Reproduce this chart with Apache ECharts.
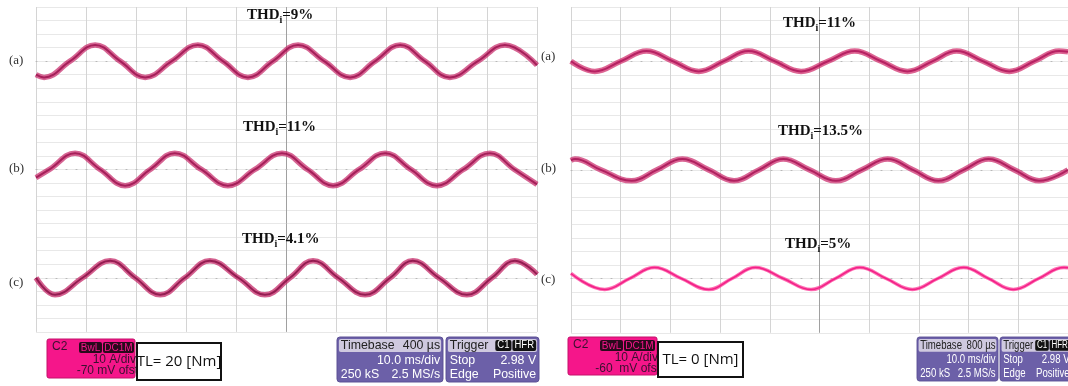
<!DOCTYPE html>
<html>
<head>
<meta charset="utf-8">
<script src="https://cdn.jsdelivr.net/npm/echarts@6/dist/echarts.min.js"></script>
<style>
    html, body { margin: 0; padding: 0; background: #fff; }
    #main { width: 1068px; height: 386px; }
</style>
</head>
<body>
<div id="main"></div>
<script>
// 波形数据：x 为格数(0-10)，y 为格数(中心为0)
var laX = [0, 0.16, 0.68, 1.18, 1.68, 2.18, 2.71, 3.23, 3.73, 4.23, 4.73, 5.23, 5.75, 6.27, 6.77, 7.27, 7.76, 8.26, 8.82, 9.36, 10];
var laY = [-1.0, -1.2, 0, 1.2, 0, -1.2, 0, 1.2, 0, -1.2, 0, 1.2, 0, -1.2, 0, 1.2, 0, -1.2, 0, 1.2, -0.3];

var lbX = [0, 0.27, 0.78, 1.28, 1.78, 2.28, 2.77, 3.3, 3.83, 4.37, 4.91, 5.42, 5.93, 6.45, 6.97, 7.48, 8.0, 8.53, 9.06, 9.55, 10];
var lbY = [-0.6, 0, 1.2, 0, -1.2, 0, 1.2, 0, -1.2, 0, 1.2, 0, -1.2, 0, 1.2, 0, -1.2, 0, 1.2, 0, -1.1];

var lcX = [0, 0.38, 0.93, 1.48, 1.98, 2.48, 2.97, 3.47, 4.04, 4.57, 5.07, 5.53, 6.03, 6.57, 7.07, 7.52, 8.04, 8.6, 9.1, 9.56, 10];
var lcY = [0, -1.26, 0, 1.26, 0, -1.26, 0, 1.26, 0, -1.26, 0, 1.26, 0, -1.26, 0, 1.26, 0, -1.26, 0, 1.26, 0.25];

var raX = [0, 0.48, 1.0, 1.52, 2.05, 2.57, 3.07, 3.57, 4.1, 4.63, 5.17, 5.71, 6.24, 6.77, 7.27, 7.76, 8.29, 8.82, 9.32, 9.82, 10];
var raY = [0, -0.75, 0, 0.75, 0, -0.75, 0, 0.75, 0, -0.75, 0, 0.75, 0, -0.75, 0, 0.75, 0, -0.75, 0, 0.75, 0.7];

var rbX = [0, 0.08, 0.6, 1.22, 1.73, 2.24, 2.77, 3.28, 3.78, 4.27, 4.8, 5.33, 5.85, 6.37, 6.88, 7.39, 7.9, 8.4, 8.92, 9.42, 10];
var rbY = [0.7, 0.8, 0, -0.8, 0, 0.8, 0, -0.8, 0, 0.8, 0, -0.8, 0, 0.8, 0, -0.8, 0, 0.8, 0, -0.8, 0];

var rcX = [0, 0.68, 1.18, 1.68, 2.22, 2.77, 3.24, 3.71, 4.27, 4.83, 5.32, 5.81, 6.34, 6.87, 7.38, 7.9, 8.4, 8.9, 9.41, 9.92, 10];
var rcY = [0.37, -0.81, 0, 0.81, 0, -0.81, 0, 0.81, 0, -0.81, 0, 0.81, 0, -0.81, 0, 0.81, 0, -0.81, 0, 0.81, 0.8];

var thdLabels = ['9%', '11%', '4.1%', '11%', '13.5%', '5%'];
var rowLabels = ['(a)', '(b)', '(c)'];

function pairs(xs, ys) {
    var out = [];
    for (var i = 0; i < xs.length; i++) out.push([xs[i], ys[i]]);
    return out;
}

var myChart = echarts.init(document.getElementById('main'));

// 网格位置
var gridDefs = [
    {left: 36, top: 7, width: 501, height: 108.3},
    {left: 36, top: 115.3, width: 501, height: 108.3},
    {left: 36, top: 223.6, width: 501, height: 108.3},
    {left: 571, top: 7, width: 501, height: 108.6},
    {left: 571, top: 115.6, width: 501, height: 108.6},
    {left: 571, top: 224.2, width: 501, height: 108.6}
];
var waves = [
    {d: pairs(laX, laY), c: '#c8316f', k: '#9e1350'},
    {d: pairs(lbX, lbY), c: '#c8316f', k: '#9e1350'},
    {d: pairs(lcX, lcY), c: '#c42a68', k: '#8a1046'},
    {d: pairs(raX, raY), c: '#d2326f', k: '#b0155a'},
    {d: pairs(rbX, rbY), c: '#cc3270', k: '#a81456'},
    {d: pairs(rcX, rcY), c: '#ff3d9a', k: '#f0147f'}
];

var vColors = ['#d4d4d4', '#d4d4d4', '#d4d4d4', '#d4d4d4', '#d4d4d4', '#a0a0a0', '#d4d4d4', '#d4d4d4', '#d4d4d4', '#d4d4d4', '#d4d4d4'];

var grids = [], xAxes = [], yAxes = [], series = [];
gridDefs.forEach(function (g, i) {
    grids.push(g);
    xAxes.push({
        type: 'value', gridIndex: i, min: 0, max: 10, interval: 1,
        axisLine: {show: true, onZero: true, lineStyle: {color: '#b8b8b8', type: [1, 9], width: 1}},
        axisTick: {show: false}, axisLabel: {show: false},
        splitLine: {show: true, lineStyle: {color: vColors, width: 1}}
    });
    yAxes.push({
        type: 'value', gridIndex: i, min: -4, max: 4, interval: 1,
        axisLine: {show: false}, axisTick: {show: false}, axisLabel: {show: false},
        splitLine: {show: true, lineStyle: {color: '#e8e8e8', width: 1}}
    });
    series.push({
        type: 'line', xAxisIndex: i, yAxisIndex: i, data: waves[i].d,
        smooth: 0.42, showSymbol: false, silent: true, clip: true,
        lineStyle: {color: waves[i].c, width: i === 5 ? 3.5 : 5.5, opacity: 0.75}
    });
    series.push({
        type: 'line', xAxisIndex: i, yAxisIndex: i, data: waves[i].d,
        smooth: 0.42, showSymbol: false, silent: true, clip: true,
        lineStyle: {color: waves[i].k, width: i === 5 ? 1.5 : 2, opacity: 0.85}
    });
});

// 文字
var graphics = [];
var thdPos = [[247, 18], [243, 130], [242, 242], [783, 26], [778, 134], [785, 247]];
thdPos.forEach(function (p, i) {
    graphics.push({
        type: 'text', left: p[0], top: p[1] - 10, z: 100,
        style: {
            text: '{b|THD}{s|i}{b|=' + thdLabels[i] + '}',
            rich: {
                b: {font: 'bold 15px "Liberation Serif"', fill: '#111', verticalAlign: 'top'},
                s: {font: 'bold 10px "Liberation Serif"', fill: '#111', verticalAlign: 'top', padding: [7, 0, 0, 0]}
            }
        }
    });
});
var rowY = [62, 170, 284];
var rowYR = [58, 170, 281];
rowLabels.forEach(function (t, i) {
    graphics.push({type: 'text', left: 9, top: rowY[i] - 8, style: {text: t, font: '13px "Liberation Serif"', fill: '#333'}});
    graphics.push({type: 'text', left: 541, top: rowYR[i] - 8, style: {text: t, font: '13px "Liberation Serif"', fill: '#333'}});
});

// 示波器信息框
function chanBox(x, y, w, h, ofst) {
    var f = '12px "Liberation Sans"';
    return [
        {type: 'rect', shape: {x: x, y: y, width: w, height: h, r: 2}, style: {fill: '#f5168a', stroke: '#c4106a'}},
        {type: 'text', x: x + 5, y: y + 2, style: {text: 'C2', font: '12px "Liberation Sans"', fill: '#3a1030'}},
        {type: 'rect', shape: {x: x + 32, y: y + 3, width: 23, height: 11, r: 2}, style: {fill: '#2a0a1c'}},
        {type: 'text', x: x + 43.5, y: y + 4, style: {text: 'BwL', font: '10px "Liberation Sans"', fill: '#f5168a', align: 'center'}},
        {type: 'rect', shape: {x: x + 56, y: y + 3, width: 31, height: 11, r: 2}, style: {fill: '#2a0a1c'}},
        {type: 'text', x: x + 71.5, y: y + 4, style: {text: 'DC1M', font: '10px "Liberation Sans"', fill: '#f5168a', align: 'center'}},
        {type: 'text', x: x + w + 1, y: y + 15, style: {text: '10 A/div', font: f, fill: '#3a1030', align: 'right'}},
        {type: 'text', x: x + w + 3, y: y + 26, style: {text: ofst, font: f, fill: '#3a1030', align: 'right'}}
    ];
}
function tlBox(x, y, w, h, txt) {
    return [
        {type: 'rect', z: 10, shape: {x: x, y: y, width: w, height: h}, style: {fill: '#fff', stroke: '#111', lineWidth: 2}},
        {type: 'text', z: 11, x: x + w / 2, y: y + h / 2, style: {text: txt, font: '15px "Open Sans"', fill: '#111', align: 'center', verticalAlign: 'middle'}}
    ];
}
// 时基框与触发框（sx 为水平压缩比例）
function tbBox(x, y, w, h, fs, tb, sx) {
    var f = fs + 'px "Liberation Sans"';
    var rh = h / 3;
    var W = w / sx;
    return {
        type: 'group', x: x, y: y, scaleX: sx,
        children: [
            {type: 'rect', shape: {x: 0, y: 0, width: W, height: h, r: 3}, style: {fill: '#6c60a8', stroke: '#5a4f94'}},
            {type: 'rect', shape: {x: 2, y: 2, width: W - 4, height: rh - 2, r: 2}, style: {fill: '#cfc9df'}},
            {type: 'text', x: 4, y: rh / 2 + 1, style: {text: 'Timebase', font: f, fill: '#222', verticalAlign: 'middle'}},
            {type: 'text', x: W - 3, y: rh / 2 + 1, style: {text: tb, font: f, fill: '#222', align: 'right', verticalAlign: 'middle'}},
            {type: 'text', x: W - 3, y: rh * 1.5 + 1, style: {text: '10.0 ms/div', font: f, fill: '#fff', align: 'right', verticalAlign: 'middle'}},
            {type: 'text', x: 4, y: rh * 2.5, style: {text: '250 kS', font: f, fill: '#fff', verticalAlign: 'middle'}},
            {type: 'text', x: W - 3, y: rh * 2.5, style: {text: '2.5 MS/s', font: f, fill: '#fff', align: 'right', verticalAlign: 'middle'}}
        ]
    };
}
function trBox(x, y, w, h, fs, sx) {
    var f = fs + 'px "Liberation Sans"';
    var rh = h / 3;
    var W = w / sx;
    return {
        type: 'group', x: x, y: y, scaleX: sx,
        children: [
            {type: 'rect', shape: {x: 0, y: 0, width: W, height: h, r: 3}, style: {fill: '#6c60a8', stroke: '#5a4f94'}},
            {type: 'rect', shape: {x: 2, y: 2, width: W - 4, height: rh - 2, r: 2}, style: {fill: '#cfc9df'}},
            {type: 'text', x: 4, y: rh / 2 + 1, style: {text: 'Trigger', font: f, fill: '#222', verticalAlign: 'middle'}},
            {type: 'rect', shape: {x: W - 46, y: 3, width: 17, height: rh - 4, r: 2}, style: {fill: '#111'}},
            {type: 'text', x: W - 37.5, y: rh / 2 + 1, style: {text: 'C1', font: '10px "Liberation Sans"', fill: '#fff', align: 'center', verticalAlign: 'middle'}},
            {type: 'rect', shape: {x: W - 28, y: 3, width: 25, height: rh - 4, r: 2}, style: {fill: '#111'}},
            {type: 'text', x: W - 15.5, y: rh / 2 + 1, style: {text: 'HFR', font: '10px "Liberation Sans"', fill: '#fff', align: 'center', verticalAlign: 'middle'}},
            {type: 'text', x: 4, y: rh * 1.5 + 1, style: {text: 'Stop', font: f, fill: '#fff', verticalAlign: 'middle'}},
            {type: 'text', x: W - 3, y: rh * 1.5 + 1, style: {text: '2.98 V', font: f, fill: '#fff', align: 'right', verticalAlign: 'middle'}},
            {type: 'text', x: 4, y: rh * 2.5, style: {text: 'Edge', font: f, fill: '#fff', verticalAlign: 'middle'}},
            {type: 'text', x: W - 3, y: rh * 2.5, style: {text: 'Positive', font: f, fill: '#fff', align: 'right', verticalAlign: 'middle'}}
        ]
    };
}

graphics = graphics
    .concat(chanBox(47, 339, 88, 39, '-70 mV ofst'))
    .concat(tlBox(137, 343, 84, 37, 'TL= 20 [Nm]'))
    .concat([tbBox(337, 337, 106, 45, 13, '400 µs', 0.95)])
    .concat([trBox(446, 337, 93, 45, 13, 0.95)])
    .concat(chanBox(568, 337, 89, 38, '-60  mV ofst'))
    .concat(tlBox(658, 342, 85, 35, 'TL= 0 [Nm]'))
    .concat([tbBox(917, 337, 81, 44, 12, '800 µs', 0.8)])
    .concat([trBox(1000, 337, 72, 44, 12, 0.8)]);

var option = {
    animation: false,
    backgroundColor: '#fff',
    grid: grids,
    xAxis: xAxes,
    yAxis: yAxes,
    series: series,
    graphic: graphics
};
myChart.setOption(option);
</script>
</body>
</html>
